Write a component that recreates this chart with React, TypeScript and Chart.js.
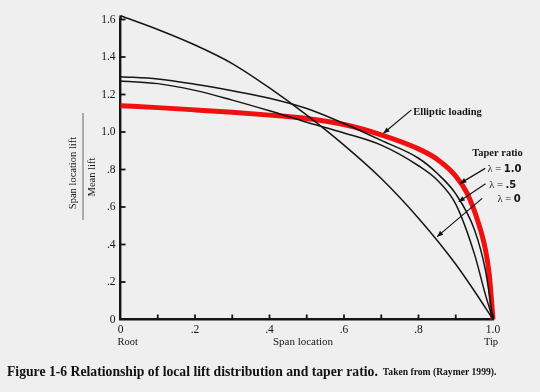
import React, { useEffect, useRef } from 'react';
import { Chart, registerables } from 'chart.js';

Chart.register(...registerables);

// ---- data ----
const xTaper0 = [0, 0.1, 0.2, 0.3, 0.4, 0.5, 0.6, 0.7, 0.8, 0.9, 0.95, 1.0];
const yTaper0 = [1.62, 1.547, 1.464, 1.365, 1.235, 1.09, 0.93, 0.752, 0.54, 0.295, 0.152, 0];

const xTaper05 = [0, 0.1, 0.2, 0.3, 0.4, 0.5, 0.6, 0.7, 0.8, 0.85, 0.9, 0.95, 0.98, 1.0];
const yTaper05 = [1.295, 1.283, 1.255, 1.22, 1.18, 1.125, 1.045, 0.955, 0.86, 0.78, 0.67, 0.48, 0.26, 0];

const xElliptic = [0, 0.1, 0.2, 0.3, 0.4, 0.5, 0.6, 0.7, 0.8, 0.85, 0.9, 0.95, 0.98, 1.0];
const yElliptic = [1.272, 1.258, 1.222, 1.17, 1.113, 1.052, 0.995, 0.93, 0.82, 0.744, 0.615, 0.35, 0.13, 0];

const xTaper1 = [0, 0.1, 0.2, 0.3, 0.4, 0.5, 0.6, 0.7, 0.8, 0.85, 0.9, 0.93, 0.96, 0.98, 0.99, 1.0];
const yTaper1 = [1.14, 1.13, 1.118, 1.105, 1.09, 1.072, 1.04, 0.985, 0.91, 0.855, 0.765, 0.675, 0.52, 0.37, 0.24, 0];

const xTickLabels = ['0', '', '.2', '', '.4', '', '.6', '', '.8', '', '1.0'];
const yTickLabels = ['0', '.2', '.4', '.6', '.8', '1.0', '1.2', '1.4', '1.6'];

const xAxisTitle = 'Span location';
const rootLabel = 'Root';
const tipLabel = 'Tip';
const yTitleTop = 'Span location lift';
const yTitleBottom = 'Mean lift';
const captionMain = 'Figure 1-6 Relationship of local lift distribution and taper ratio.';
const captionSource = 'Taken from (Raymer 1999).';
const ellipticLabel = 'Elliptic loading';
const taperLabel = 'Taper ratio';
const lambdaValues = ['1.0', '.5', '0'];

const SERIF = "'Liberation Serif', 'DejaVu Serif', serif";
const INK = '#151515';

const pts = (xs: number[], ys: number[]) => xs.map((x, i) => ({ x, y: ys[i] }));

// annotation anchors in data units
const annotations = {
  elliptic: { text: [0.786, 1.107], from: [0.781, 1.118], to: [0.706, 0.993] },
  taper: [0.944, 0.888],
  lambdas: [
    { text: [0.985, 0.803], from: [0.979, 0.806], to: [0.912, 0.726] },
    { text: [0.99, 0.717], from: [0.98, 0.724], to: [0.908, 0.628] },
    { text: [1.012, 0.643], from: [0.971, 0.646], to: [0.85, 0.442] },
  ],
};

function arrow(ctx: CanvasRenderingContext2D, x1: number, y1: number, x2: number, y2: number) {
  ctx.beginPath();
  ctx.moveTo(x1, y1);
  ctx.lineTo(x2, y2);
  ctx.stroke();
  const a = Math.atan2(y2 - y1, x2 - x1);
  const L = 6, W = 2.6;
  ctx.beginPath();
  ctx.moveTo(x2, y2);
  ctx.lineTo(x2 - L * Math.cos(a) + W * Math.sin(a), y2 - L * Math.sin(a) - W * Math.cos(a));
  ctx.lineTo(x2 - L * Math.cos(a) - W * Math.sin(a), y2 - L * Math.sin(a) + W * Math.cos(a));
  ctx.closePath();
  ctx.fill();
}

const decor = {
  id: 'decor',
  afterDraw(chart: any) {
    const { ctx, scales } = chart;
    const x = scales.x, y = scales.y;
    const px = (v: number) => x.getPixelForValue(v);
    const py = (v: number) => y.getPixelForValue(v);
    ctx.save();
    ctx.strokeStyle = INK;
    ctx.fillStyle = INK;

    // inward tick marks
    ctx.lineWidth = 1.8;
    x.ticks.forEach((t: any, i: number) => {
      if (i === 0) return;
      const p = px(t.value);
      ctx.beginPath();
      ctx.moveTo(p, y.bottom);
      ctx.lineTo(p, y.bottom - 5);
      ctx.stroke();
    });
    y.ticks.forEach((t: any, i: number) => {
      if (i === 0) return;
      const p = py(t.value);
      ctx.beginPath();
      ctx.moveTo(x.left, p);
      ctx.lineTo(x.left + 5, p);
      ctx.stroke();
    });
    // y axis slight overshoot at top
    ctx.lineWidth = 2.4;
    ctx.beginPath();
    ctx.moveTo(x.left, y.top);
    ctx.lineTo(x.left, y.top - 4);
    ctx.stroke();

    // Root / Tip / axis title row
    ctx.font = `10.5px ${SERIF}`;
    ctx.textBaseline = 'middle';
    ctx.textAlign = 'left';
    ctx.fillText(rootLabel, px(0) - 3, y.bottom + 23);
    ctx.textAlign = 'center';
    ctx.fillText(tipLabel, px(1) - 2, y.bottom + 23);
    ctx.font = `11px ${SERIF}`;
    ctx.fillText(xAxisTitle, px(0.49), y.bottom + 23);

    // y axis fraction title
    ctx.save();
    ctx.translate(73, 173);
    ctx.rotate(-Math.PI / 2);
    ctx.font = `10.5px ${SERIF}`;
    ctx.textAlign = 'center';
    ctx.fillText(yTitleTop, 0, 0);
    ctx.restore();
    ctx.save();
    ctx.translate(92, 177);
    ctx.rotate(-Math.PI / 2);
    ctx.font = `10.5px ${SERIF}`;
    ctx.textAlign = 'center';
    ctx.fillText(yTitleBottom, 0, 0);
    ctx.restore();
    ctx.strokeStyle = '#666';
    ctx.lineWidth = 1;
    ctx.beginPath();
    ctx.moveTo(83, 113);
    ctx.lineTo(83, 220);
    ctx.stroke();

    // annotations
    ctx.strokeStyle = INK;
    ctx.fillStyle = INK;
    ctx.lineWidth = 1.2;
    const e = annotations.elliptic;
    arrow(ctx, px(e.from[0]), py(e.from[1]), px(e.to[0]), py(e.to[1]));
    ctx.font = `bold 10.5px ${SERIF}`;
    ctx.textAlign = 'left';
    ctx.fillText(ellipticLabel, px(e.text[0]), py(e.text[1]));
    ctx.fillText(taperLabel, px(annotations.taper[0]), py(annotations.taper[1]));
    annotations.lambdas.forEach((l, i) => {
      arrow(ctx, px(l.from[0]), py(l.from[1]), px(l.to[0]), py(l.to[1]));
      const tx = px(l.text[0]), ty = py(l.text[1]);
      ctx.font = `10.5px ${SERIF}`;
      const head = 'λ = ';
      ctx.fillText(head, tx, ty);
      const w = ctx.measureText(head).width;
      ctx.font = `bold 10px 'DejaVu Sans', sans-serif`;
      ctx.fillText(lambdaValues[i], tx + w, ty);
    });

    // caption
    ctx.font = `bold 13.7px ${SERIF}`;
    ctx.textAlign = 'left';
    ctx.fillStyle = '#111';
    ctx.fillText(captionMain, 7, 372);
    const cw = ctx.measureText(captionMain).width;
    ctx.font = `bold 9.6px ${SERIF}`;
    ctx.fillText(captionSource, 7 + cw + 5, 373);
    ctx.restore();
  },
};

export default function App() {
  const ref = useRef<HTMLCanvasElement | null>(null);

  useEffect(() => {
    document.body.style.margin = '0';
    const canvas = ref.current;
    if (!canvas) return;
    const line = (data: any, color: string, width: number, order: number) => ({
      data,
      borderColor: color,
      borderWidth: width,
      pointRadius: 0,
      fill: false,
      cubicInterpolationMode: 'monotone' as const,
      clip: false as const,
      order,
    });
    const chart = new Chart(canvas, {
      type: 'line',
      data: {
        datasets: [
          { label: 'λ = 0', ...line(pts(xTaper0, yTaper0), INK, 1.5, 0) },
          { label: 'λ = .5', ...line(pts(xTaper05, yTaper05), INK, 1.5, 0) },
          { label: 'Elliptic loading', ...line(pts(xElliptic, yElliptic), INK, 1.5, 0) },
          { label: 'λ = 1.0', ...line(pts(xTaper1, yTaper1), '#f01010', 5, 5) },
        ],
      },
      options: {
        animation: false,
        responsive: false,
        maintainAspectRatio: false,
        layout: { padding: { top: 19.5, right: 47, bottom: 0, left: 0 } },
        plugins: { legend: { display: false }, tooltip: { enabled: false }, title: { display: false } },
        scales: {
          x: {
            type: 'linear',
            min: 0,
            max: 1,
            grid: { display: false, drawTicks: false },
            border: { display: true, color: INK, width: 2.4 },
            ticks: {
              stepSize: 0.1,
              autoSkip: false,
              maxRotation: 0,
              padding: 4,
              color: INK,
              font: { family: SERIF, size: 11.5 },
              callback: (_v: any, i: number) => xTickLabels[i] ?? '',
            },
            afterFit: (s: any) => { s.height = 72.5; },
          },
          y: {
            type: 'linear',
            min: 0,
            max: 1.6,
            grid: { display: false, drawTicks: false },
            border: { display: true, color: INK, width: 2.4 },
            ticks: {
              stepSize: 0.2,
              autoSkip: false,
              padding: 5,
              color: INK,
              font: { family: SERIF, size: 11.5 },
              callback: (_v: any, i: number) => yTickLabels[i] ?? '',
            },
            afterFit: (s: any) => { s.width = 120.5; },
          },
        },
      },
      plugins: [decor],
    });
    return () => chart.destroy();
  }, []);

  return (
    <div
      style={{
        position: 'fixed',
        left: 0,
        top: 0,
        width: 540,
        height: 392,
        background: '#efefef',
      }}
    >
      <canvas ref={ref} width={540} height={392} style={{ display: 'block' }} />
    </div>
  );
}
